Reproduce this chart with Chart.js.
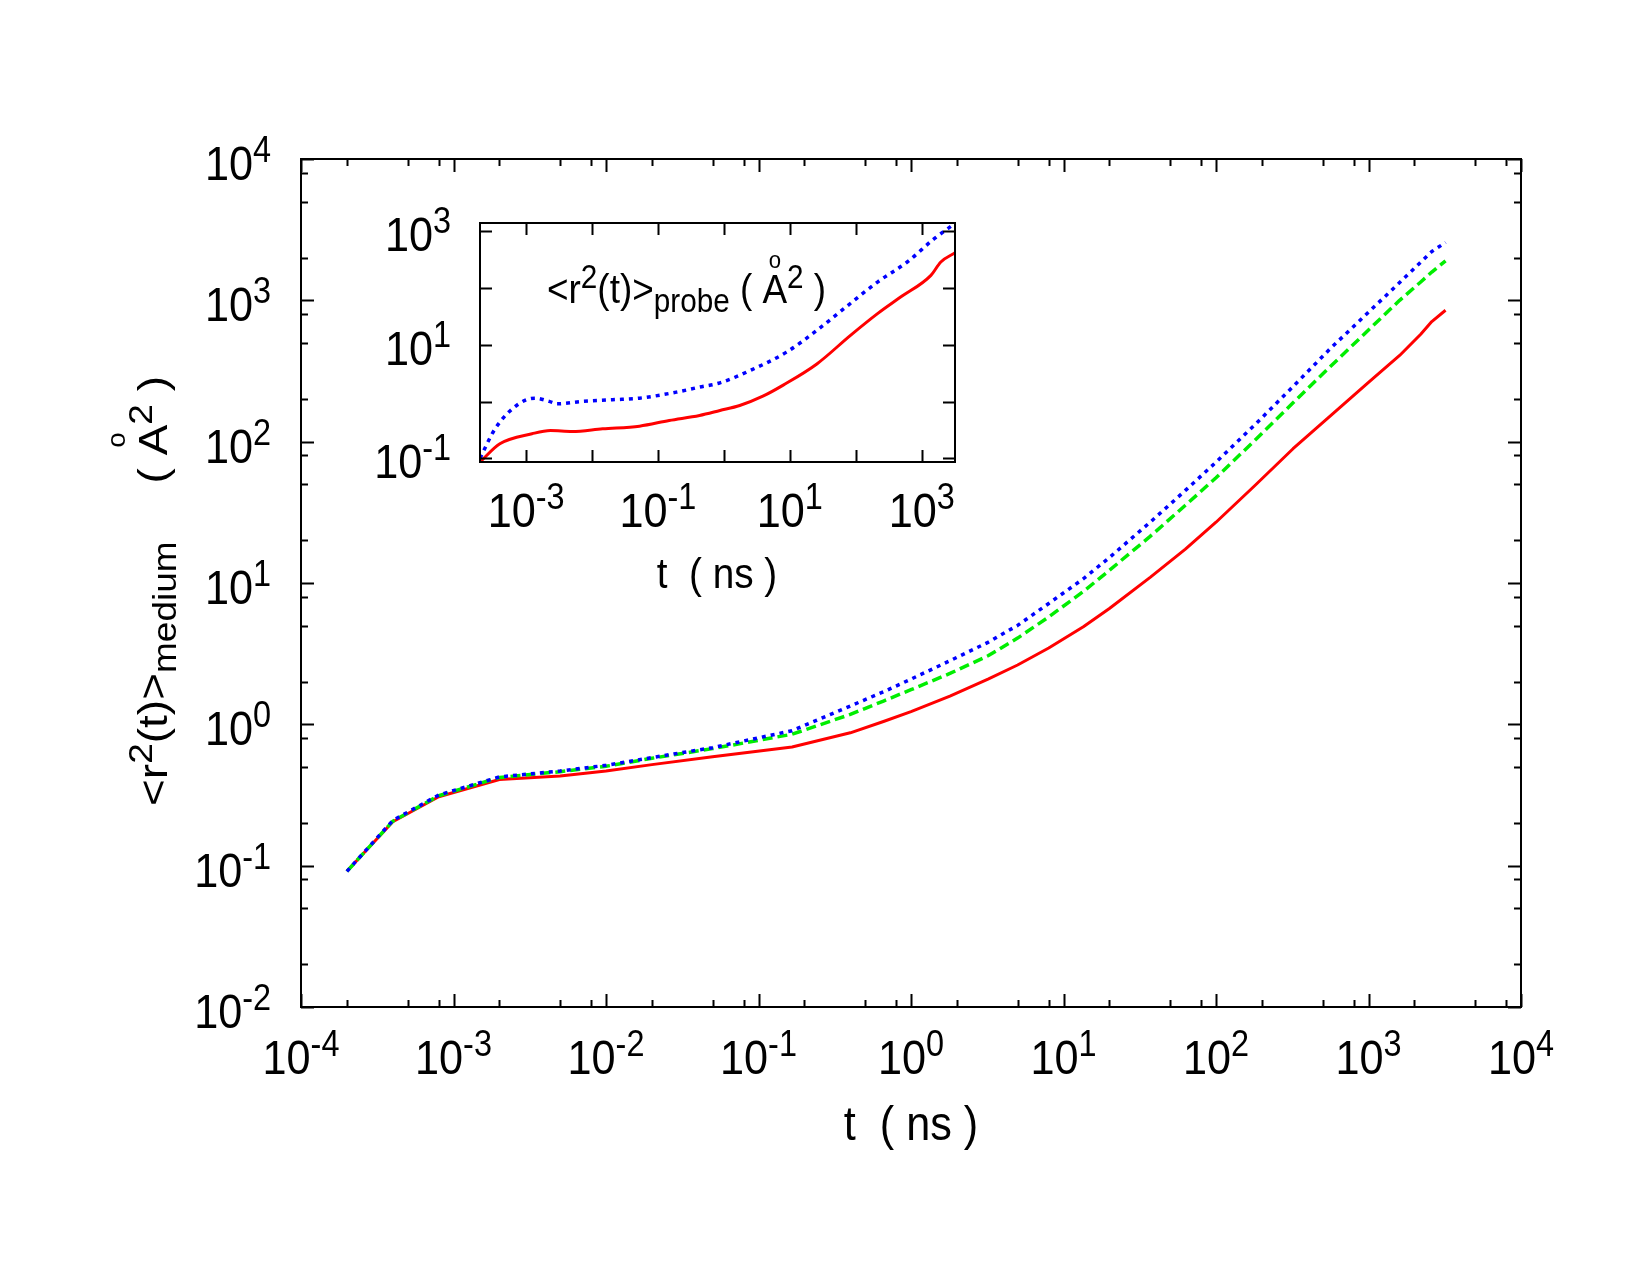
<!DOCTYPE html>
<html>
<head>
<meta charset="utf-8">
<script src="https://cdn.jsdelivr.net/npm/chart.js@4.4.0/dist/chart.umd.min.js"></script>
<style>
  html, body { margin: 0; padding: 0; background: #fff; }
  #wrap { position: relative; width: 1650px; height: 1275px; }
  #wrap canvas { position: absolute; left: 0; top: 0; }
</style>
</head>
<body>
<div id="wrap">
  <canvas id="mainChart" width="1650" height="1275"></canvas>
  <canvas id="insetChart" width="1650" height="1275"></canvas>
</div>
<script>
// main panel: <r^2(t)>_medium vs t (ns)
const mainT = [2e-4, 4e-4, 8e-4, 2e-3, 5e-3, 0.01, 0.02, 0.05, 0.166, 0.4, 0.66, 1, 1.8, 3.2, 5, 8,
  13.5, 20, 37, 63, 100, 180, 320, 560, 1000, 1600, 2200, 2600, 3200];
const mainRed = [0.0912, 0.2046, 0.3076, 0.4074, 0.4305, 0.4677, 0.5188, 0.5888, 0.6918, 0.871, 1.047,
  1.23, 1.585, 2.089, 2.63, 3.467, 4.898, 6.607, 10.96, 17.38, 26.92, 48.98, 89.13, 151.4, 263.0,
  407.4, 575.4, 707.9, 851.1];
const mainGreen = [0.0912, 0.2065, 0.3126, 0.4207, 0.4624, 0.5047, 0.5754, 0.673, 0.851, 1.175, 1.462,
  1.758, 2.291, 3.055, 4.074, 5.754, 8.71, 12.3, 21.38, 35.48, 55.59, 102.3, 188.4, 338.8, 616.6,
  1000, 1349, 1585, 1905];
const mainBlue = [0.0912, 0.2089, 0.3162, 0.4246, 0.4677, 0.5129, 0.5821, 0.6839, 0.9016, 1.349, 1.698,
  2.089, 2.818, 3.802, 5.012, 7.161, 10.72, 15.14, 26.92, 45.19, 71.61, 131.8, 245.5, 453.9, 824.1,
  1337, 1862, 2213, 2570];

// inset: <r^2(t)>_probe
const insetRedT = [2e-4, 4e-4, 1.23e-3, 2.34e-3, 5e-3, 0.0145, 0.0525, 0.148, 0.427, 0.871, 1.738, 3.98,
  7.94, 25.7, 83.2, 213.8, 478.6, 1380, 1950, 3200];
const insetRed = [0.0861, 0.1803, 0.2704, 0.309, 0.2972, 0.3311, 0.3681, 0.4645, 0.5689, 0.6966, 0.8531,
  1.259, 1.95, 4.6, 14.66, 35.4, 69.3, 167.5, 287.7, 416.9];
const insetBlueT = [2e-4, 3.39e-4, 7.76e-4, 1.38e-3, 2.24e-3, 2.95e-3, 7.08e-3, 0.0204, 0.0525, 0.1905,
  0.4266, 0.871, 2.512, 8.913, 25.7, 66.07, 213.8, 602.6, 1549, 3200];
const insetBlue = [0.1, 0.3311, 0.912, 1.148, 1.005, 0.912, 1.005, 1.076, 1.148, 1.466, 1.795, 2.138,
  3.532, 7.43, 17.95, 43.35, 127.6, 287.7, 741.3, 1380];

// tick exponents
const mainXExp = [-4, -3, -2, -1, 0, 1, 2, 3, 4];
const mainYExp = [-2, -1, 0, 1, 2, 3, 4];
const insetXExp = [-3, -2, -1, 0, 1, 2, 3];
const insetXLabelExp = [-3, -1, 1, 3];
const insetYExp = [-1, 0, 1, 2, 3];
const insetYLabelExp = [-1, 1, 3];
const minorMult = [2, 5, 8];

const XS = 0.9; // text is slightly condensed horizontally
const FONT = '"Liberation Sans", Arial, Helvetica, sans-serif';

function drawRich(ctx, x, y, segs, align, rot) {
  ctx.save();
  ctx.translate(x, y);
  ctx.scale(XS, 1);
  if (rot) ctx.rotate(rot);
  ctx.textBaseline = 'alphabetic';
  ctx.textAlign = 'left';
  ctx.fillStyle = '#000';
  let w = 0;
  segs.forEach((s) => {
    if (s.gap != null) { s.w = s.gap; } else {
      ctx.font = s.f + 'px ' + FONT;
      s.w = ctx.measureText(s.t).width;
    }
    w += s.w;
  });
  let cx = align === 'center' ? -w / 2 : align === 'right' ? -w : 0;
  segs.forEach((s) => {
    if (s.t) {
      ctx.font = s.f + 'px ' + FONT;
      ctx.fillText(s.t, cx, s.dy || 0);
      if (s.ring) {
        const rf = s.f * 0.6;
        ctx.font = rf + 'px ' + FONT;
        const rw = ctx.measureText('o').width;
        ctx.fillText('o', cx + (s.w - rw) / 2, (s.dy || 0) - s.f * s.ring);
      }
    }
    cx += s.w;
  });
  ctx.restore();
}

function powLabel(e, f, sf, raise) {
  return [{ t: '10', f: f }, { t: String(e), f: sf, dy: -raise }];
}

function minorTicks(exps) {
  const out = [];
  for (let i = 0; i < exps.length - 1; i++) {
    minorMult.forEach((m) => out.push(m * Math.pow(10, exps[i])));
  }
  return out;
}

function framePlugin(cfg) {
  return {
    id: 'frame',
    afterDatasetsDraw(chart) {
      const { ctx, chartArea: a } = chart;
      const xs = chart.scales.x, ys = chart.scales.y;
      ctx.save();
      ctx.strokeStyle = '#000';
      ctx.lineWidth = cfg.lw;
      ctx.lineCap = 'butt';
      ctx.beginPath();
      const vTick = (v, len) => {
        const px = Math.round(xs.getPixelForValue(v)) + 0.5;
        ctx.moveTo(px, a.bottom); ctx.lineTo(px, a.bottom - len);
        ctx.moveTo(px, a.top); ctx.lineTo(px, a.top + len);
      };
      const hTick = (v, len) => {
        const py = Math.round(ys.getPixelForValue(v)) + 0.5;
        ctx.moveTo(a.left, py); ctx.lineTo(a.left + len, py);
        ctx.moveTo(a.right, py); ctx.lineTo(a.right - len, py);
      };
      cfg.xMajor.forEach((e) => vTick(Math.pow(10, e), cfg.major));
      cfg.yMajor.forEach((e) => hTick(Math.pow(10, e), cfg.major));
      cfg.xMinor.forEach((v) => { if (v > xs.min && v < xs.max) vTick(v, cfg.minor); });
      cfg.yMinor.forEach((v) => { if (v > ys.min && v < ys.max) hTick(v, cfg.minor); });
      ctx.stroke();
      ctx.strokeRect(a.left, a.top, a.right - a.left, a.bottom - a.top);
      ctx.restore();

      cfg.xLabels.forEach((e) => {
        drawRich(ctx, xs.getPixelForValue(Math.pow(10, e)), a.bottom + cfg.xLabOff,
          powLabel(e, cfg.tf, cfg.tsf, cfg.traise), 'center');
      });
      cfg.yLabels.forEach((e) => {
        drawRich(ctx, a.left - cfg.yLabGap, ys.getPixelForValue(Math.pow(10, e)) + cfg.yLabDy,
          powLabel(e, cfg.tf, cfg.tsf, cfg.traise), 'right');
      });
      cfg.texts.forEach((t) => drawRich(ctx, t.x, t.y, t.segs, t.align, t.rot));
    }
  };
}

function lineSet(xv, yv, color, dash, w, smooth) {
  return {
    data: xv.map((t, i) => ({ x: t, y: yv[i] })),
    borderColor: color,
    borderWidth: w,
    borderDash: dash,
    borderCapStyle: 'butt',
    borderJoinStyle: 'round',
    pointRadius: 0,
    tension: 0,
    cubicInterpolationMode: smooth ? 'monotone' : 'default',
    fill: false,
  };
}

function baseOptions(pad, xr, yr) {
  return {
    responsive: false,
    animation: false,
    devicePixelRatio: 1,
    layout: { padding: pad },
    plugins: { legend: { display: false }, tooltip: { enabled: false } },
    scales: {
      x: { type: 'logarithmic', min: xr[0], max: xr[1], display: false },
      y: { type: 'logarithmic', min: yr[0], max: yr[1], display: false },
    },
  };
}

const mainTexts = [
  { x: 911, y: 1140, align: 'center', segs: [{ t: 't  ( ns )', f: 48 }] },
  {
    x: 167, y: 591, align: 'center', rot: -Math.PI / 2,
    segs: [
      { t: '<r', f: 46 }, { t: '2', f: 37, dy: -17 }, { t: '(t)>', f: 46 }, { t: 'medium', f: 37, dy: 10 },
      { gap: 58 },
      { t: '( ', f: 46 }, { t: 'A', f: 46, ring: 1.02 }, { t: '2', f: 37, dy: -17 }, { t: ' )', f: 46 },
    ],
  },
];

const insetTexts = [
  { x: 717, y: 588, align: 'center', segs: [{ t: 't  ( ns )', f: 43 }] },
  {
    x: 547, y: 303, align: 'left',
    segs: [
      { t: '<r', f: 41 }, { t: '2', f: 33, dy: -15 }, { t: '(t)>', f: 41 }, { t: 'probe', f: 33, dy: 9 },
      { t: ' ( ', f: 41 }, { t: 'A', f: 41, ring: 0.85 }, { t: '2', f: 33, dy: -15 }, { t: ' )', f: 41 },
    ],
  },
];

new Chart(document.getElementById('mainChart'), {
  type: 'line',
  data: {
    datasets: [
      lineSet(mainT, mainBlue, '#0000ff', [4, 5], 3.5, false),
      lineSet(mainT, mainGreen, '#00ee00', [10, 5], 3.5, false),
      lineSet(mainT, mainRed, '#ff0000', [], 3, false),
    ],
  },
  options: baseOptions({ left: 301, right: 129, top: 159, bottom: 268 }, [1e-4, 1e4], [1e-2, 1e4]),
  plugins: [framePlugin({
    lw: 2, major: 13, minor: 7,
    xMajor: mainXExp, yMajor: mainYExp,
    xMinor: minorTicks(mainXExp), yMinor: minorTicks(mainYExp),
    xLabels: mainXExp, yLabels: mainYExp,
    tf: 48, tsf: 36, traise: 18,
    xLabOff: 67, yLabGap: 30, yLabDy: 21,
    texts: mainTexts,
  })],
});

new Chart(document.getElementById('insetChart'), {
  type: 'line',
  data: {
    datasets: [
      lineSet(insetBlueT, insetBlue, '#0000ff', [4, 5], 3.5, true),
      lineSet(insetRedT, insetRed, '#ff0000', [], 3, true),
    ],
  },
  options: baseOptions({ left: 480, right: 695, top: 223, bottom: 813 }, [2e-4, 3200], [0.0861, 1400]),
  plugins: [framePlugin({
    lw: 2, major: 12, minor: 0,
    xMajor: insetXExp, yMajor: insetYExp,
    xMinor: [], yMinor: [],
    xLabels: insetXLabelExp, yLabels: insetYLabelExp,
    tf: 48, tsf: 36, traise: 18,
    xLabOff: 65, yLabGap: 29, yLabDy: 20,
    texts: insetTexts,
  })],
});
</script>
</body>
</html>
